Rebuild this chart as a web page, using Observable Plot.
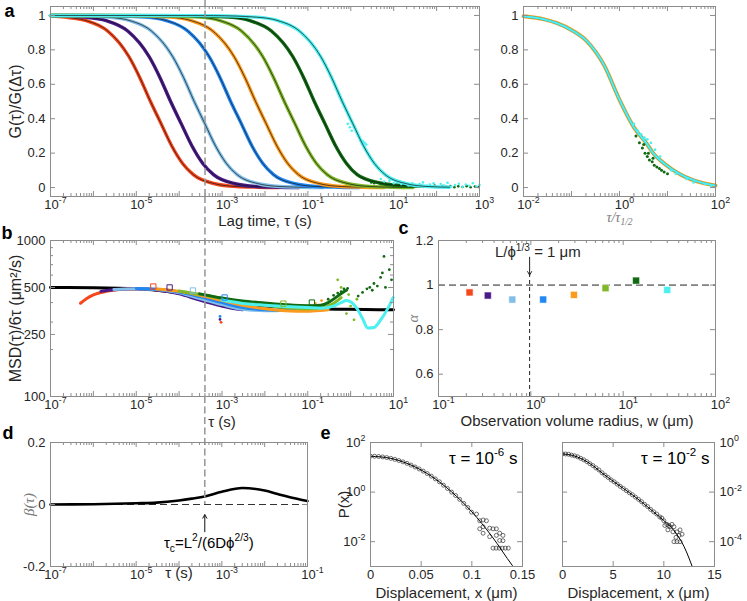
<!DOCTYPE html>
<html><head><meta charset="utf-8">
<script src="https://cdn.jsdelivr.net/npm/d3@7"></script>
<script src="https://cdn.jsdelivr.net/npm/@observablehq/plot@0.6"></script>
<style>
body{margin:0;background:#fff;}
#fig{position:relative;width:747px;height:601px;}
#fig svg{position:absolute;left:0;top:0;}
</style></head><body><div id="fig"></div><script>
const W=747,H=601;
const FONT='"Liberation Sans", Arial, Helvetica, sans-serif';
const SERIF='"Liberation Serif", "DejaVu Serif", serif';
const TXT="#262626", AX="#8c8c8c", GRAYTXT="#7a7a7a";

const seriesNames=["red","purple","lightblue","blue","orange","yellowgreen","darkgreen","cyan"];
const seriesColors=["#f5471b","#4a1a8a","#82bfe8","#2287f2","#fb9a1c","#80b82a","#0f6a12","#4cf0f0"];
const tauC=4e-4;

// ---------- panel a (left): G(tau)/G(dtau) ----------
const aRed=[[1e-7,0.998],[2.14e-7,0.99],[6.76e-7,0.97],[2.14e-6,0.91],[6.76e-6,0.76],[1.2e-5,0.64],[2.14e-5,0.5],[3.8e-5,0.37],[6.76e-5,0.24],[1.2e-4,0.14],[2.14e-4,0.075],[6.76e-4,0.022],[2.14e-3,0.006],[6.76e-3,0.002],[2.14e-2,0.0005]];
const aPurple=[[1e-7,0.999],[6.31e-7,0.99],[2e-6,0.97],[6.31e-6,0.91],[2e-5,0.76],[3.55e-5,0.64],[6.31e-5,0.5],[1.12e-4,0.37],[2e-4,0.24],[3.55e-4,0.14],[6.31e-4,0.075],[2e-3,0.022],[6.31e-3,0.006],[2e-2,0.002],[6.31e-2,0.0005]];
const aLightBlue=[[1e-7,1],[7.08e-7,0.998],[2.24e-6,0.99],[7.08e-6,0.97],[2.24e-5,0.91],[7.08e-5,0.76],[1.26e-4,0.64],[2.24e-4,0.5],[3.98e-4,0.37],[7.08e-4,0.24],[1.26e-3,0.14],[2.24e-3,0.075],[7.08e-3,0.022],[2.24e-2,0.006],[7.08e-2,0.002],[2.24e-1,0.0005]];
const aBlue=[[1e-7,1],[1.58e-6,0.999],[1.58e-5,0.99],[5.01e-5,0.97],[1.58e-4,0.91],[5.01e-4,0.76],[8.91e-4,0.64],[1.58e-3,0.5],[2.82e-3,0.37],[5.01e-3,0.24],[8.91e-3,0.14],[1.58e-2,0.075],[5.01e-2,0.022],[1.58e-1,0.006],[5.01e-1,0.002],[1.58,0.0005]];
const aOrange=[[1e-7,1],[6.03e-6,0.999],[6.03e-5,0.99],[1.91e-4,0.97],[6.03e-4,0.91],[1.91e-3,0.76],[3.39e-3,0.64],[6.03e-3,0.5],[1.07e-2,0.37],[1.91e-2,0.24],[3.39e-2,0.14],[6.03e-2,0.075],[1.91e-1,0.022],[6.03e-1,0.006],[1.91,0.002],[6.03,0.0005]];
const aYellowGreen=[[1e-7,1],[2.82e-5,0.999],[2.82e-4,0.99],[8.91e-4,0.97],[2.82e-3,0.91],[8.91e-3,0.76],[1.58e-2,0.64],[2.82e-2,0.5],[5.01e-2,0.37],[8.91e-2,0.24],[1.58e-1,0.14],[2.82e-1,0.075],[8.91e-1,0.022],[2.82,0.006],[8.91,0.002],[28.2,0.0005]];
const aDarkGreen=[[1e-7,1],[1.41e-4,0.999],[1.41e-3,0.99],[4.47e-3,0.97],[1.41e-2,0.91],[4.47e-2,0.76],[7.94e-2,0.64],[1.41e-1,0.5],[2.51e-1,0.37],[4.47e-1,0.24],[7.94e-1,0.14],[1.41,0.075],[4.47,0.028],[14.1,0.012],[44.7,0.008]];
const aCyan=[[1e-7,1],[6.31e-4,0.999],[6.31e-3,0.99],[2e-2,0.97],[6.31e-2,0.91],[2e-1,0.76],[3.55e-1,0.64],[6.31e-1,0.5],[1.12,0.37],[2,0.24],[3.55,0.14],[6.31,0.075],[20,0.022],[63.1,0.006],[200,0.002]];
const aDarkGreenTail=[[3,0.03],[3.5,0.025],[4,0.032],[5,0.02],[6,0.024],[7,0.015],[8,0.02],[10,0.012],[12,0.018],[15,0.01],[18,0.015],[22,0.008],[27,0.012],[33,0.006],[40,0.01],[50,0.004],[60,0.009],[75,0.005],[90,0.011],[110,0.003],[140,0.008],[170,0.004],[210,0.009],[260,0.002],[320,0.007],[400,0.003],[500,0.008],[620,0.002],[780,0.006],[950,0.003]];
const aCyanTail=[[0.85,0.37],[0.95,0.35],[1.05,0.33],[1.7,0.27],[1.9,0.27],[2.1,0.26],[2.3,0.25],[5,0.05],[6,0.035],[8,0.04],[10,0.025],[12,0.03],[15,0.02],[18,0.028],[22,0.012],[27,0.025],[33,0.01],[40,0.02],[48,0.03],[58,0.008],[70,0.018],[85,0.025],[100,0.005],[125,0.02],[150,0.012],[180,0.028],[220,0.006],[270,0.015],[330,0.022],[400,0.004],[480,0.018],[580,0.01],[700,0.025],[850,0.006],[1000,0.015]];

// ---------- panel a (right): collapsed ----------
const aRightCurve=[[0.01,0.995],[0.027,0.977],[0.05,0.955],[0.1,0.915],[0.21,0.85],[0.48,0.71],[1,0.51],[2,0.35],[3.8,0.25],[5,0.2],[8.5,0.14],[19,0.075],[49,0.03],[100,0.012]];
const aRightGreenDots=[[2.2,0.3],[2.6,0.26],[3,0.23],[3.2,0.25],[3.4,0.2],[3.8,0.18],[4,0.2],[4.2,0.16],[4.8,0.15],[5,0.17],[5.3,0.13],[6,0.12],[6.8,0.11],[7.5,0.1],[8.5,0.09],[10,0.08]];
const aRightCyanDots=[[2,0.37],[2.4,0.33],[2.8,0.31],[3.3,0.29],[3.8,0.28],[4.5,0.26],[5.5,0.22],[7,0.18],[12,0.1],[15,0.08],[25,0.05],[35,0.03],[60,0.02],[80,0.01]];

// ---------- panel b: MSD/6tau ----------
const bModel=[[1e-7,500],[1e-6,498],[1e-5,490],[3e-5,480],[1e-4,460],[3e-4,435],[1e-3,410],[3e-3,392],[1e-2,380],[3e-2,372],[1e-1,367],[1,362],[10,360]];
const bRed=[[5e-7,396],[7e-7,425],[1e-6,448],[2e-6,472],[4e-6,485],[1e-5,490],[3e-5,484],[1e-4,460],[3e-4,425],[7e-4,395],[1e-3,380]];
const bPurple=[[1.5e-6,472],[3e-6,483],[1e-5,490],[3e-5,482],[1e-4,455],[3e-4,415],[1e-3,380],[2e-3,365],[3e-3,360]];
const bLightBlue=[[3e-6,485],[1e-5,490],[3e-5,485],[1e-4,462],[3e-4,425],[1e-3,388],[3e-3,362],[1e-2,355],[2e-2,355]];
const bBlue=[[1e-5,492],[3e-5,487],[1e-4,468],[3e-4,437],[1e-3,400],[3e-3,372],[1e-2,360],[3e-2,357],[6e-2,358]];
const bOrange=[[3e-5,488],[1e-4,472],[3e-4,445],[1e-3,413],[3e-3,385],[1e-2,365],[3e-2,355],[1e-1,352],[2e-1,356],[3e-1,360]];
const bYellowGreen=[[1e-4,475],[3e-4,452],[1e-3,425],[3e-3,400],[1e-2,385],[3e-2,372],[1e-1,365],[2e-1,370],[4e-1,395],[6e-1,430]];
const bDarkGreen=[[3e-4,455],[1e-3,428],[3e-3,410],[1e-2,398],[3e-2,388],[1e-1,382],[2e-1,385],[3e-1,400],[5e-1,440],[7e-1,470],[8e-1,480]];
const bCyan=[[1e-3,415],[3e-3,395],[1e-2,385],[3e-2,378],[1e-1,372],[2e-1,368],[4e-1,380],[6e-1,400],[8e-1,412],[1.4,367],[1.9,316],[2.5,275],[3.5,277],[4.9,307],[7.4,367],[9.8,431]];
const bOutliers=[[9e-4,326,3],[9e-4,312,1],[9.5e-4,299,0]];
const bDarkGreenDots=[[0.3,420],[0.4,445],[0.5,460],[0.6,470],[0.7,490],[0.85,493],[1.5,440],[1.9,465],[2.4,490],[2.8,500],[3.2,480],[3.5,530],[4.2,510],[5,580],[5.5,620],[6,790],[6.5,500],[8,650],[9,560]];
const bYellowGreenDots=[[0.5,560],[0.6,500],[0.8,340],[0.9,450],[1,380],[1.2,310],[1.4,420]];
const bOrangeDots=[[0.15,395],[0.21,412]];
const bSquares=[[2.5e-5,507,0],[6e-5,500,1],[2.1e-4,478,2],[1.15e-3,431,3],[2.7e-2,394,5],[1.25e-1,400,6]];

// ---------- panel c: alpha vs w ----------
const cW=[0.217,0.342,0.63,1.36,2.93,6.44,13.8,30];
const cAlpha=[0.967,0.953,0.935,0.935,0.956,0.986,1.02,0.978];
const cLphi=0.97;
const cText={w:1.0,alpha:1.124,label:"L/ϕ^{1/3} = 1 μm"};
const cArrow={y1:1.125,y2:1.045};

// ---------- panel d: beta(tau) ----------
const dBeta=[[1e-7,0],[1e-6,0.001],[1e-5,0.004],[3e-5,0.006],[1e-4,0.013],[2e-4,0.019],[4e-4,0.026],[1e-3,0.041],[3e-3,0.053],[1e-2,0.045],[2e-2,0.034],[5e-2,0.02],[1e-1,0.011]];
const dArrow={y1:-0.088,y2:-0.033};
const dText={y:-0.139,label:"τ_{c}=L^{2}/(6Dϕ^{2/3})"};

// ---------- panel e: P(x) ----------
const eLeftCircles=[[0,28],[0.004,27.9],[0.008,27.3],[0.012,26.2],[0.016,24.7],[0.02,22.9],[0.024,20.9],[0.028,18.8],[0.032,16.6],[0.036,14.4],[0.04,12.3],[0.044,10.3],[0.048,8.6],[0.052,7.0],[0.056,5.6],[0.06,4.4],[0.064,3.4],[0.068,2.6],[0.072,1.9],[0.076,1.4],[0.08,1.0],[0.084,0.73],[0.088,0.51],[0.092,0.35],[0.096,0.24],[0.0997,0.155],[0.1046,0.13],[0.1078,0.07],[0.1111,0.075],[0.1144,0.07],[0.1078,0.033],[0.1111,0.04],[0.1176,0.035],[0.1209,0.033],[0.1242,0.033],[0.1111,0.022],[0.1242,0.018],[0.1275,0.022],[0.1307,0.018],[0.1176,0.016],[0.1275,0.0112],[0.1209,0.0055],[0.124,0.0055],[0.127,0.0055],[0.13,0.0055],[0.133,0.0055],[0.136,0.0055],[0.1307,0.011]];
const eLeftFit=[[0,28],[0.02,22.9],[0.04,12.3],[0.06,4.4],[0.08,1.02],[0.1,0.16],[0.12,0.016],[0.14,0.0011],[0.145,0.0006]];
const eRightCircles=[[0,0.347],[0.3,0.345],[0.6,0.335],[0.9,0.31],[1.2,0.29],[1.5,0.265],[1.8,0.23],[2.1,0.2],[2.4,0.17],[2.7,0.14],[3,0.117],[3.3,0.095],[3.6,0.078],[3.9,0.06],[4.2,0.048],[4.5,0.039],[4.8,0.031],[5.1,0.026],[5.4,0.021],[5.7,0.017],[6,0.014],[6.3,0.0115],[6.6,0.0094],[6.9,0.0078],[7.2,0.0063],[7.5,0.0051],[7.8,0.0041],[8.1,0.0032],[8.4,0.0026],[8.7,0.002],[9,0.0016],[9.3,0.0013],[9.6,0.001],[9.8,0.0009],[10,0.0007],[10.1,0.00045],[10.3,0.0005],[10.5,0.00045],[10.6,0.0004],[10.8,0.0005],[11,0.0004],[10.4,0.0003],[10.9,0.00025],[11.3,0.00025],[11.6,0.0003],[11.2,0.00015],[11.5,0.00018],[11.8,0.0002],[11,0.0001],[11.3,0.0001],[11.6,0.0001]];
const eRightFit=[[0,0.347],[1,0.302],[2,0.209],[3,0.117],[4,0.055],[5,0.0275],[6,0.0141],[7,0.00724],[8,0.00347],[9,0.00158],[10,0.000708],[11,0.000282],[12,0.000063],[12.8,0.00001],[13,0.000006]];
const eLeftText="τ = 10^{-6} s", eRightText="τ = 10^{-2} s";

// ---------- tick label values ----------
const aXLabels=[1e-7,1e-5,1e-3,1e-1,1e1,1e3];
const aYLabels=[0,0.2,0.4,0.6,0.8,1];
const arXLabels=[1e-2,1,1e2];
const bXLabels=[1e-7,1e-5,1e-3,1e-1,1e1];
const bYLabels=[100,250,500,1000];
const bYMinor=[200,300,400,600,700,800,900];
const cXLabels=[0.1,1,10,100];
const cYLabels=[0.6,0.8,1,1.2];
const dXLabels=[1e-7,1e-5,1e-3,1e-1];
const dYLabels=[-0.2,0,0.2];
const eLXLabels=[0,0.05,0.1,0.15];
const eLYLabels=[1e2,1,1e-2];
const eRXLabels=[0,5,10,15];
const eRYLabels=[1,1e-2,1e-4];

// ---------- helpers ----------
const NS="http://www.w3.org/2000/svg";
const pow10=d=>"10^{"+String(Math.round(Math.log10(d)))+"}";
const plain=d=>String(d);
function decades(lo,hi){const r=[];for(let k=Math.round(Math.log10(lo));k<=Math.round(Math.log10(hi));k++)r.push(Math.pow(10,k));return r;}
function logMinor(lo,hi){const r=[];for(let k=Math.floor(Math.log10(lo));k<Math.ceil(Math.log10(hi));k++)for(let m=2;m<=9;m++){const v=m*Math.pow(10,k);if(v>lo*1.0001&&v<hi*0.9999)r.push(v);}return r;}
const X=d=>d[0], Y=d=>d[1];

function rich(root){
  root.querySelectorAll("text").forEach(t=>{
    const els=t.querySelector("tspan")?[...t.querySelectorAll("tspan")]:[t];
    els.forEach(el=>{
      const s=el.textContent; if(!/[\^_]\{/.test(s)) return;
      el.textContent="";
      const parts=[]; const re=/([\^_])\{([^}]*)\}/g; let i=0,m;
      while((m=re.exec(s))){ if(m.index>i) parts.push(["n",s.slice(i,m.index)]); parts.push([m[1],m[2]]); i=re.lastIndex; }
      if(i<s.length) parts.push(["n",s.slice(i)]);
      let cur=0;
      parts.forEach(([k,str])=>{
        const ts=document.createElementNS(NS,"tspan");
        const target=k==="^"?-0.42:k==="_"?0.28:0;
        const scale=k==="n"?1:0.68;
        if(scale!==1) ts.setAttribute("font-size",(scale*100)+"%");
        const delta=target-cur;
        if(Math.abs(delta)>1e-6) ts.setAttribute("dy",(delta/scale).toFixed(3)+"em");
        cur=target; ts.textContent=str; el.appendChild(ts);
      });
    });
  });
}

function panel(cfg){
  const [l,r,t,b]=cfg.box; const iw=r-l, ih=b-t;
  const marks=[...cfg.marks];
  marks.push(Plot.frame({stroke:AX,strokeWidth:1}));
  const tk=(vals,len,axis)=>{
    if(!vals||!vals.length) return [];
    if(axis==="x") return [Plot.tickX(vals,{x:d=>d,insetTop:ih-len,stroke:AX}),Plot.tickX(vals,{x:d=>d,insetBottom:ih-len,stroke:AX})];
    return [Plot.tickY(vals,{y:d=>d,insetRight:iw-len,stroke:AX}),Plot.tickY(vals,{y:d=>d,insetLeft:iw-len,stroke:AX})];
  };
  marks.push(...tk(cfg.xMajor,5,"x"),...tk(cfg.xMinor,3,"x"),...tk(cfg.yMajor,5,"y"),...tk(cfg.yMinor,3,"y"));
  marks.push(Plot.axisX({ticks:cfg.xLabels,tickFormat:cfg.fx,tickSize:0,tickPadding:cfg.xPad??3,dx:cfg.fx===pow10?5:0,fill:TXT,fontSize:13,label:null}));
  marks.push(Plot.axisY({ticks:cfg.yLabels,tickFormat:cfg.fy,tickSize:0,tickPadding:5,anchor:cfg.yRight?"right":"left",fill:TXT,fontSize:13,label:null}));
  if(cfg.xLabel) marks.push(Plot.text([cfg.xLabel.text],{text:d=>d,frameAnchor:"bottom",textAnchor:"middle",lineAnchor:"bottom",dy:cfg.xLabel.dy,dx:cfg.xLabel.dx||0,fontSize:cfg.xLabel.size||15,fill:cfg.xLabel.color||TXT,fontFamily:cfg.xLabel.font||FONT,fontStyle:cfg.xLabel.style||"normal"}));
  if(cfg.yLabel) marks.push(Plot.text([cfg.yLabel.text],{text:d=>d,frameAnchor:"left",textAnchor:"middle",lineAnchor:"bottom",rotate:-90,dx:cfg.yLabel.dx,dy:cfg.yLabel.dy||0,fontSize:cfg.yLabel.size||15,fill:cfg.yLabel.color||TXT,fontFamily:cfg.yLabel.font||FONT,fontStyle:cfg.yLabel.style||"normal"}));
  if(cfg.letter) marks.push(Plot.text([cfg.letter.text],{text:d=>d,frameAnchor:"top-left",textAnchor:"start",lineAnchor:"bottom",dx:cfg.letter.dx,dy:cfg.letter.dy,fontSize:18,fontWeight:"bold",fill:"#000"}));
  const svg=Plot.plot({
    width:W,height:H,marginLeft:l,marginRight:W-r,marginTop:t,marginBottom:H-b,
    x:cfg.x,y:cfg.y,
    style:{background:"transparent",overflow:"visible",fontFamily:FONT,fontSize:"13px",color:TXT},
    marks
  });
  rich(svg);
  document.getElementById("fig").appendChild(svg);
  return svg;
}

// ---------- a (left) ----------
const aSeries=[aRed,aPurple,aLightBlue,aBlue,aOrange,aYellowGreen,aDarkGreen,aCyan];
const aMarks=[];
aSeries.forEach((s,i)=>{
  aMarks.push(Plot.line(s,{x:X,y:Y,stroke:seriesColors[i],strokeWidth:3.4,curve:"monotone-x"}));
  if(i===6) aMarks.push(Plot.dot(aDarkGreenTail,{x:X,y:Y,r:1.3,fill:seriesColors[6]}));
  if(i===7) aMarks.push(Plot.dot(aCyanTail,{x:X,y:Y,r:1.3,fill:seriesColors[7]}));
  aMarks.push(Plot.line(s,{x:X,y:Y,stroke:"#111",strokeWidth:0.7,curve:"monotone-x"}));
});
const aBox=[50,479,6,196];
panel({box:aBox,x:{type:"log",domain:[1e-7,1e3]},y:{domain:[-0.052,1.052]},marks:aMarks,
  xMajor:decades(1e-7,1e3),xMinor:logMinor(1e-7,1e3),yMajor:aYLabels,
  xLabels:aXLabels,fx:pow10,yLabels:aYLabels,fy:plain,
  xLabel:{text:"Lag time, τ (s)",dy:29},yLabel:{text:"G(τ)/G(Δτ)",dx:-30,size:16},letter:{text:"a",dx:-46,dy:10}});

// ---------- a (right) ----------
const arMarks=[
  Plot.line(aRightCurve,{x:X,y:Y,stroke:seriesColors[4],strokeWidth:4,curve:"monotone-x"}),
  Plot.line(aRightCurve,{x:X,y:Y,stroke:seriesColors[5],strokeWidth:2.5,curve:"monotone-x"}),
  Plot.line(aRightCurve,{x:X,y:Y,stroke:seriesColors[3],strokeWidth:2,curve:"monotone-x"}),
  Plot.dot(aRightGreenDots,{x:X,y:Y,r:1.5,fill:seriesColors[6]}),
  Plot.line(aRightCurve,{x:X,y:Y,stroke:seriesColors[7],strokeWidth:2,curve:"monotone-x"}),
  Plot.dot(aRightCyanDots,{x:X,y:Y,r:1.4,fill:seriesColors[7]})
];
panel({box:[523,715,6,196],x:{type:"log",domain:[1e-2,1e2]},y:{domain:[-0.052,1.052]},marks:arMarks,
  xMajor:decades(1e-2,1e2),xMinor:logMinor(1e-2,1e2),yMajor:aYLabels,
  xLabels:arXLabels,fx:pow10,yLabels:aYLabels,fy:plain,
  xLabel:{text:"τ/τ_{1/2}",dy:25,size:14,color:GRAYTXT,font:SERIF,style:"italic"}});

// ---------- b ----------
const bSeries=[bRed,bPurple,bLightBlue,bBlue,bOrange,bYellowGreen,bDarkGreen,bCyan];
const bMarks=[Plot.line(bModel,{x:X,y:Y,stroke:"#000",strokeWidth:3,curve:"monotone-x"})];
bSeries.forEach((s,i)=>{
  bMarks.push(Plot.line(s,{x:X,y:Y,stroke:seriesColors[i],strokeWidth:3,curve:"monotone-x"}));
  if(i===4) bMarks.push(Plot.dot(bOrangeDots,{x:X,y:Y,r:1.4,fill:seriesColors[4]}));
  if(i===5) bMarks.push(Plot.dot(bYellowGreenDots,{x:X,y:Y,r:1.4,fill:seriesColors[5]}));
  if(i===6) bMarks.push(Plot.dot(bDarkGreenDots,{x:X,y:Y,r:1.4,fill:seriesColors[6]}));
});
bMarks.push(Plot.dot(bOutliers,{x:X,y:Y,r:1.4,fill:d=>seriesColors[d[2]]}));
bMarks.push(Plot.dot(bSquares,{x:X,y:Y,r:3,symbol:"square",fill:"none",stroke:d=>seriesColors[d[2]],strokeWidth:1}));
const bBox=[50,393,240,396];
bMarks.push(Plot.ruleX([tauC],{x:d=>d,insetTop:-(bBox[2]-aBox[3]),stroke:"#9a9a9a",strokeWidth:1.6,strokeDasharray:"7,3.5"}));
panel({box:bBox,x:{type:"log",domain:[1e-7,1e1]},y:{type:"log",domain:[100,1000]},marks:bMarks,
  xMajor:decades(1e-7,1e1),xMinor:logMinor(1e-7,1e1),yMajor:bYLabels,yMinor:bYMinor,
  xLabels:bXLabels,fx:pow10,yLabels:bYLabels,fy:plain,
  xLabel:{text:"τ (s)",dy:30},yLabel:{text:"MSD(τ)/6τ (μm²/s)",dx:-30,size:16},letter:{text:"b",dx:-49,dy:-2}});

// ---------- c ----------
const cData=cW.map((w,i)=>({w,alpha:cAlpha[i],i}));
const cMarks=[
  Plot.ruleY([1],{y:d=>d,stroke:"#222",strokeWidth:1,strokeDasharray:"7,4"}),
  Plot.ruleX([cLphi],{x:d=>d,y1:0.5,y2:cArrow.y2,stroke:"#222",strokeWidth:1,strokeDasharray:"4,3"}),
  Plot.arrow([cLphi],{x1:d=>d,x2:d=>d,y1:cArrow.y1,y2:cArrow.y2,stroke:"#222",strokeWidth:1,headLength:6}),
  Plot.text([cText],{x:"w",y:"alpha",text:"label",lineAnchor:"bottom",dx:7,fontSize:15,fill:TXT}),
  Plot.dot(cData,{x:"w",y:"alpha",r:4,symbol:"square",fill:d=>seriesColors[d.i],stroke:"#fff",strokeWidth:0.6})
];
panel({box:[438,715,240,396],x:{type:"log",domain:[0.1,100]},y:{domain:[0.5,1.2]},marks:cMarks,
  xMajor:decades(0.1,100),xMinor:logMinor(0.1,100),yMajor:cYLabels,
  xLabels:cXLabels,fx:pow10,yLabels:cYLabels,fy:plain,
  xLabel:{text:"Observation volume radius, w (μm)",dy:29},yLabel:{text:"α",dx:-21,size:15,color:GRAYTXT,font:SERIF,style:"italic"},letter:{text:"c",dx:-40,dy:-7}});

// ---------- d ----------
const dBox=[50,307,442,566];
const dIH=dBox[3]-dBox[2];
const dMarks=[
  Plot.ruleY([0],{y:d=>d,stroke:"#333",strokeWidth:1.2,strokeDasharray:"7,4"}),
  Plot.line(dBeta,{x:X,y:Y,stroke:"#000",strokeWidth:2.6,curve:"monotone-x"}),
  Plot.ruleX([tauC],{x:d=>d,insetTop:-(dBox[2]-bBox[3]),insetBottom:dIH*(0-(-0.2))/0.4,stroke:"#9a9a9a",strokeWidth:1.6,strokeDasharray:"7,3.5"}),
  Plot.arrow([tauC],{x1:d=>d,x2:d=>d,y1:dArrow.y1,y2:dArrow.y2,stroke:"#111",strokeWidth:1,headLength:6}),
  Plot.text([tauC],{x:d=>d,y:dText.y,text:()=>dText.label,lineAnchor:"bottom",dx:4,fontSize:15,fill:"#000"})
];
panel({box:dBox,x:{type:"log",domain:[1e-7,1e-1]},y:{domain:[-0.2,0.2]},marks:dMarks,
  xMajor:decades(1e-7,1e-1),xMinor:logMinor(1e-7,1e-1),yMajor:dYLabels,
  xLabels:dXLabels,fx:pow10,yLabels:dYLabels,fy:plain,
  xLabel:{text:"τ (s)",dy:11,dx:0},yLabel:{text:"β(τ)",dx:-17,size:15,color:GRAYTXT,font:SERIF,style:"italic"},letter:{text:"d",dx:-48,dy:-4}});

// dashed tau_c line through panel a (overlay on top of a's curves)
panel({box:aBox,x:{type:"log",domain:[1e-7,1e3]},y:{domain:[-0.052,1.052]},
  marks:[Plot.ruleX([tauC],{x:d=>d,insetTop:-aBox[2],stroke:"#9a9a9a",strokeWidth:1.6,strokeDasharray:"7,3.5"})],
  xLabels:[],yLabels:[]});

// ---------- e left ----------
panel({box:[370,522,442,566],x:{domain:[0,0.15]},y:{type:"log",domain:[1e-3,1e2]},
  marks:[
    Plot.dot(eLeftCircles,{x:X,y:Y,r:2,stroke:"#333",strokeWidth:0.7,fill:"none",clip:true}),
    Plot.line(eLeftFit,{x:X,y:Y,stroke:"#000",strokeWidth:1,curve:"monotone-x",clip:true}),
    Plot.text([eLeftText],{text:d=>d,frameAnchor:"top-right",textAnchor:"end",lineAnchor:"bottom",dx:-5,dy:21,fontSize:17,fill:"#000"})
  ],
  xMajor:eLXLabels,yMajor:eLYLabels,xLabels:eLXLabels,fx:plain,yLabels:eLYLabels,fy:pow10,xPad:3,
  xLabel:{text:"Displacement, x (μm)",dy:31},yLabel:{text:"P(x)",dx:-22},letter:{text:"e",dx:-50,dy:-4}});

// ---------- e right ----------
panel({box:[562,714,442,566],x:{domain:[0,15]},y:{type:"log",domain:[1e-5,1]},
  marks:[
    Plot.dot(eRightCircles,{x:X,y:Y,r:2,stroke:"#333",strokeWidth:0.7,fill:"none",clip:true}),
    Plot.line(eRightFit,{x:X,y:Y,stroke:"#000",strokeWidth:1,curve:"monotone-x",clip:true}),
    Plot.text([eRightText],{text:d=>d,frameAnchor:"top-right",textAnchor:"end",lineAnchor:"bottom",dx:-5,dy:21,fontSize:17,fill:"#000"})
  ],
  xMajor:eRXLabels,yMajor:eRYLabels,xLabels:eRXLabels,fx:plain,yLabels:eRYLabels,fy:pow10,yRight:true,xPad:3,
  xLabel:{text:"Displacement, x (μm)",dy:31}});
</script></body></html>
